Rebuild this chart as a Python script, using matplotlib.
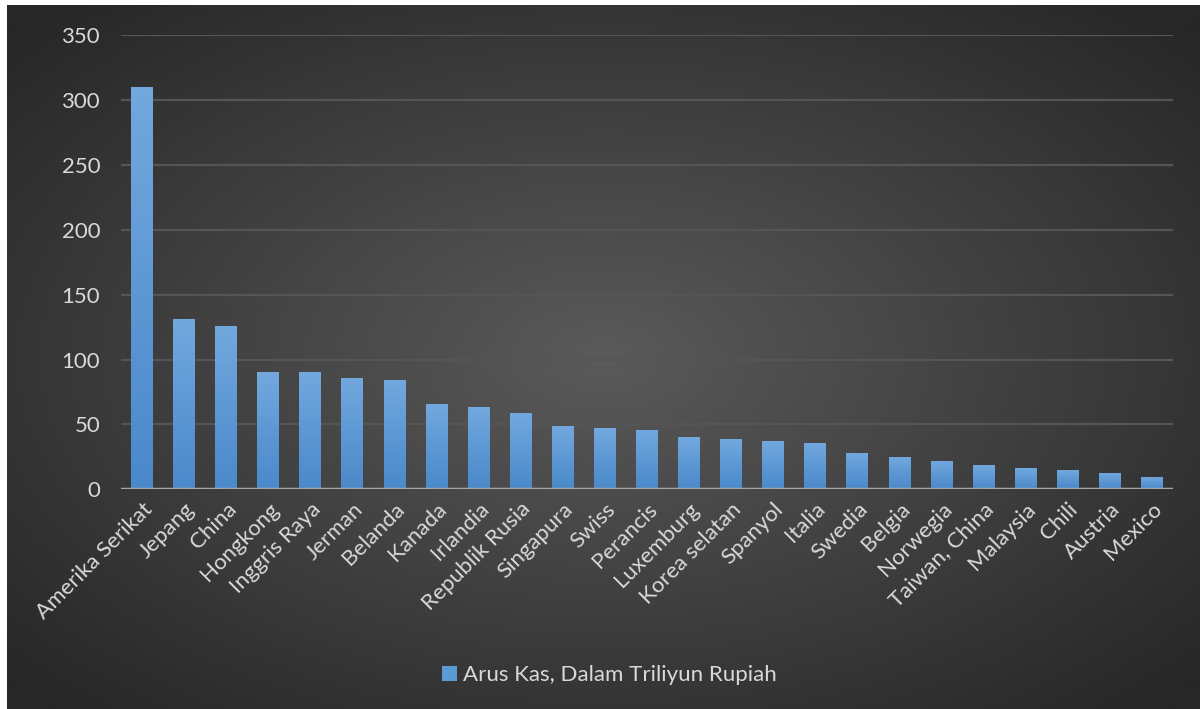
import numpy as np
import matplotlib.pyplot as plt
from matplotlib.colors import LinearSegmentedColormap

# data
countries = ['Amerika Serikat', 'Jepang', 'China', 'Hongkong', 'Inggris Raya',
             'Jerman', 'Belanda', 'Kanada', 'Irlandia', 'Republik Rusia',
             'Singapura', 'Swiss', 'Perancis', 'Luxemburg', 'Korea selatan',
             'Spanyol', 'Italia', 'Swedia', 'Belgia', 'Norwegia',
             'Taiwan, China', 'Malaysia', 'Chili', 'Austria', 'Mexico']
arus_kas = [310, 131, 126, 90.5, 90.5, 86, 84.5, 65.5, 63.5, 58.5,
            48.5, 47, 46, 40, 38.5, 37, 35.5, 28, 25, 22, 18.5, 16.5, 15, 12.5, 9.5]
series_name = 'Arus Kas, Dalam Triliyun Rupiah'
yticks = [0, 50, 100, 150, 200, 250, 300, 350]

plt.rcParams['font.family'] = ['Lato', 'DejaVu Sans']
txt_color = '#d9d9d9'

fig = plt.figure(figsize=(12, 7.09), dpi=100)
fig.patch.set_facecolor('white')

# radial dark background (Excel style)
bg = fig.add_axes([7 / 1200, 0, 1 - 7 / 1200, 1 - 5 / 709], zorder=0)
gx, gy = np.meshgrid(np.linspace(-1, 1, 400), np.linspace(-1, 1, 240))
r = np.clip(np.sqrt(gx ** 2 + gy ** 2) / 1.35, 0, 1)
bg_cmap = LinearSegmentedColormap.from_list('bg', ['#5a5a5a', '#272727'])
bg.imshow(r, cmap=bg_cmap, aspect='auto', extent=[0, 1, 0, 1], vmin=0, vmax=1)
bg.axis('off')

ax = fig.add_axes([0.1008, 0.310, 0.8767, 0.6403], zorder=1)
ax.patch.set_alpha(0)

x = np.arange(len(countries))
bars = ax.bar(x, arus_kas, width=0.52, color='#5b9bd5', zorder=3)

# vertical gradient in each bar
bar_cmap = LinearSegmentedColormap.from_list('bar', ['#4a89cb', '#72a8de'])
grad = np.linspace(0, 1, 100).reshape(-1, 1)
for b in bars:
    x0, y0 = b.get_x(), b.get_y()
    w, h = b.get_width(), b.get_height()
    im = ax.imshow(grad, cmap=bar_cmap, aspect='auto', origin='lower',
                   extent=[x0, x0 + w, y0, y0 + h], zorder=3)
    im.set_clip_path(b)

ax.set_xlim(-0.5, len(countries) - 0.5)
ax.set_ylim(0, 350)
ax.set_yticks(yticks)
ax.yaxis.grid(True, color='#555555', linewidth=1.6, zorder=1)
ax.set_axisbelow(True)
ax.axhline(0, color='#a6a6a6', linewidth=2.5, zorder=4)

for s in ax.spines.values():
    s.set_visible(False)

ax.set_xticks(x)
ax.set_xticklabels(countries, rotation=45, ha='right', rotation_mode='anchor')
ax.tick_params(axis='both', length=0, colors=txt_color, labelsize=16)
ax.tick_params(axis='y', pad=15)
ax.tick_params(axis='x', pad=7)

leg = fig.legend([bars[0]], [series_name], loc='center', bbox_to_anchor=(0.508, 34 / 709),
                 frameon=False, fontsize=16, handlelength=0.65, handleheight=0.65,
                 handletextpad=0.3)
for t in leg.get_texts():
    t.set_color(txt_color)

fig.savefig('out.png', dpi=100)
